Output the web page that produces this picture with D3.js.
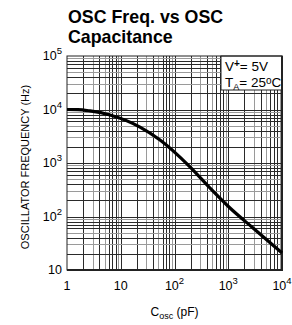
<!DOCTYPE html>
<html><head><meta charset="utf-8">
<script src="https://cdn.jsdelivr.net/npm/d3@7"></script>
<style>body{margin:0;background:#fff;} text{font-family:"Liberation Sans",Arial,sans-serif;}</style>
</head><body>
<svg id="c" width="292" height="325"></svg>
<script>
const capPF = [1, 1.6, 2.68, 6.3, 22.8, 53.8, 194, 457, 1078, 2890, 10000];
const freqHz = [10000, 9950, 9400, 7900, 4700, 2700, 850, 341, 144, 61, 20.8];
const xTicks = [1, 10, 100, 1000, 10000];
const xTickLabels = [["1",""],["10",""],["10","2"],["10","3"],["10","4"]];
const yTicks = [10, 100, 1000, 10000, 100000];
const yTickLabels = [["10",""],["10","2"],["10","3"],["10","4"],["10","5"]];

const svg = d3.select("#c");
const L = 67, R = 282, T = 56, B = 270;
const x = d3.scaleLog().domain([1, 10000]).range([L, R]);
const y = d3.scaleLog().domain([10, 100000]).range([B, T]);

// grid
const minors = [];
for (let d = 1; d < 10000; d *= 10) for (let m = 2; m <= 9; m++) minors.push(d * m);
const yminors = [];
for (let d = 10; d < 100000; d *= 10) for (let m = 2; m <= 9; m++) yminors.push(d * m);
const gray = v => { const m = Math.round(v / Math.pow(10, Math.floor(Math.log10(v) + 1e-9))); return m === 3 || m === 5 || m === 9; };
const g = svg.append("g");
g.selectAll(".vx").data(minors.concat([10,100,1000])).join("line")
  .attr("x1", d => Math.round(x(d)) + 0.5).attr("x2", d => Math.round(x(d)) + 0.5)
  .attr("y1", T).attr("y2", B)
  .attr("stroke", d => gray(d) ? "#9a9a9a" : "#2a2a2a").attr("stroke-width", 1);
g.selectAll(".hy").data(yminors.concat([100,1000,10000])).join("line")
  .attr("y1", d => Math.round(y(d)) + 0.5).attr("y2", d => Math.round(y(d)) + 0.5)
  .attr("x1", L).attr("x2", R)
  .attr("stroke", d => gray(d) ? "#9a9a9a" : "#2a2a2a").attr("stroke-width", 1);

// legend box
const lx = 221, ly = T, lw = R - 221, lh = 34;
svg.append("rect").attr("x", lx).attr("y", ly).attr("width", lw).attr("height", lh)
  .attr("fill", "#fff").attr("stroke", "#222").attr("stroke-width", 1);
const t1 = svg.append("text").attr("x", lx + 4).attr("y", ly + 15).attr("font-size", 13.5).attr("fill", "#000");
t1.append("tspan").text("V");
t1.append("tspan").attr("dy", -4).attr("font-size", 10).attr("font-weight", "bold").text("+");
t1.append("tspan").attr("dy", 4).text("= 5V");
const t2 = svg.append("text").attr("x", lx + 4).attr("y", ly + 31).attr("font-size", 13.5).attr("fill", "#000");
t2.append("tspan").text("T");
t2.append("tspan").attr("dy", 3).attr("font-size", 9).text("A");
t2.append("tspan").attr("dy", -3).text("= 25");
t2.append("tspan").attr("dy", -3).attr("font-size", 10).text("o");
t2.append("tspan").attr("dy", 3).text("C");

// frame
svg.append("rect").attr("x", L).attr("y", T).attr("width", R - L).attr("height", B - T)
  .attr("fill", "none").attr("stroke", "#222").attr("stroke-width", 1);
svg.append("line").attr("x1", L).attr("x2", R + 1).attr("y1", B).attr("y2", B).attr("stroke", "#222").attr("stroke-width", 2);
svg.append("line").attr("x1", R).attr("x2", R).attr("y1", T).attr("y2", B).attr("stroke", "#222").attr("stroke-width", 2);

// curve
const line = d3.line().x((d, i) => x(capPF[i])).y(d => y(d)).curve(d3.curveMonotoneX);
svg.append("path").attr("d", line(freqHz)).attr("fill", "none").attr("stroke", "#000").attr("stroke-width", 3.2);

// x tick labels
xTicks.forEach((v, i) => {
  const t = svg.append("text").attr("x", x(v)).attr("y", B + 20).attr("text-anchor", "middle").attr("font-size", 12.5);
  t.append("tspan").text(xTickLabels[i][0]);
  if (xTickLabels[i][1]) t.append("tspan").attr("dy", -6).attr("font-size", 9.5).text(xTickLabels[i][1]);
});
// y tick labels
yTicks.forEach((v, i) => {
  const t = svg.append("text").attr("x", L - 5).attr("y", y(v) + 4).attr("text-anchor", "end").attr("font-size", 12.5);
  t.append("tspan").text(yTickLabels[i][0]);
  if (yTickLabels[i][1]) t.append("tspan").attr("dy", -6).attr("font-size", 9.5).text(yTickLabels[i][1]);
});

// axis titles
svg.append("text").attr("transform", `translate(29,${(T + B) / 2 + 4}) rotate(-90)`)
  .attr("text-anchor", "middle").attr("font-size", 11).text("OSCILLATOR FREQUENCY (Hz)");
const xt = svg.append("text").attr("x", (L + R) / 2).attr("y", 316).attr("text-anchor", "middle").attr("font-size", 12);
xt.append("tspan").text("C");
xt.append("tspan").attr("dy", 3).attr("font-size", 9).text("osc");
xt.append("tspan").attr("dy", -3).text(" (pF)");

// title
svg.append("text").attr("x", 68).attr("y", 23).attr("font-size", 17.8).attr("font-weight", "bold").text("OSC Freq. vs OSC");
svg.append("text").attr("x", 68).attr("y", 43).attr("font-size", 17.8).attr("font-weight", "bold").text("Capacitance");
</script>
</body></html>
